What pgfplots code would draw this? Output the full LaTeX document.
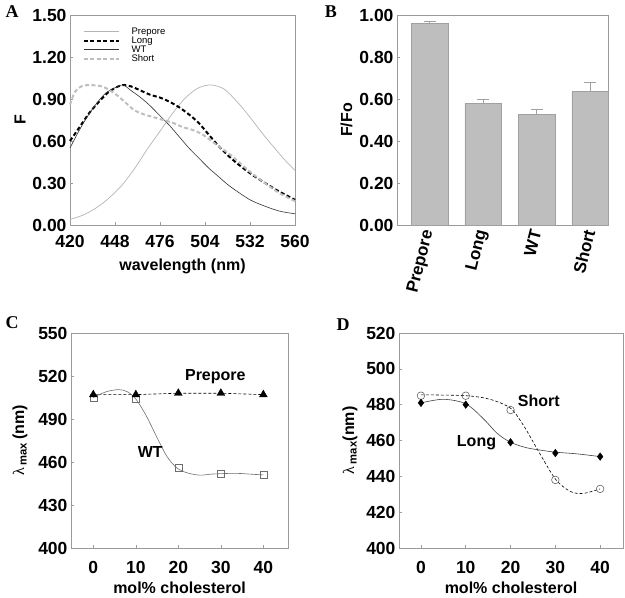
\documentclass[border=0pt]{standalone}
\usepackage{pgfplots}
\pgfplotsset{compat=1.18}
\usepackage{fontspec}
\setmainfont{Liberation Sans}
\newfontfamily\seriffont{Liberation Serif}
\definecolor{axgray}{RGB}{155,155,155}
\definecolor{lightg}{RGB}{180,180,180}
\definecolor{shortg}{RGB}{190,190,190}
\definecolor{barg}{RGB}{190,190,190}
\definecolor{bardraw}{RGB}{160,160,160}
\definecolor{wtc}{RGB}{110,110,110}

\pgfplotsset{
  panel/.style={scale only axis,
    axis line style={axgray, line width=0.8pt},
    tick style={axgray, line width=0.6pt},
    major tick length=3pt, tick align=inside,
    xtick pos=bottom, ytick pos=left,
    tick label style={font=\bfseries\fontsize{17.5}{19}\selectfont},
    label style={font=\bfseries\fontsize{16}{18}\selectfont},
    /pgf/number format/assume math mode=true,
    clip=false},
}

\pgfplotstableread{
x y
420 0.04
428 0.07
436 0.12
444 0.19
452 0.28
460 0.40
468 0.54
476 0.67
484 0.80
492 0.91
500 0.98
508 1.00
516 0.97
524 0.88
532 0.77
540 0.65
548 0.54
554 0.46
560 0.39
}\prepore

\pgfplotstableread{
x y
420 0.60
426 0.70
432 0.80
438 0.88
444 0.95
450 0.99
453 1.00
458 0.99
464 0.96
470 0.93
476 0.91
482 0.88
488 0.84
494 0.79
500 0.73
506 0.65
512 0.57
518 0.50
524 0.44
532 0.37
540 0.31
550 0.24
560 0.18
}\longA

\pgfplotstableread{
x y
420 0.55
425 0.66
430 0.76
436 0.86
442 0.94
448 0.98
453 1.00
458 0.96
464 0.91
470 0.85
476 0.78
482 0.71
488 0.63
494 0.55
500 0.48
506 0.41
512 0.35
518 0.29
524 0.24
532 0.18
540 0.14
550 0.10
560 0.08
}\wtA

\pgfplotstableread{
x y
420 0.86
423 0.95
427 0.99
432 1.00
440 0.99
445 0.96
450 0.92
455 0.87
460 0.82
466 0.79
472 0.77
478 0.75
484 0.73
490 0.70
496 0.68
502 0.65
508 0.60
514 0.55
520 0.50
526 0.44
532 0.38
540 0.31
550 0.23
560 0.17
}\shortA

\begin{document}
\begin{tikzpicture}
\useasboundingbox (0pt,0pt) rectangle (625pt,598pt);

% ---------------- A ----------------
\begin{axis}[panel, at={(70pt,373pt)}, anchor=south west,
  width=225pt, height=210pt,
  xmin=420, xmax=560, ymin=0, ymax=1.5,
  xtick={420,448,476,504,532,560},
  ytick={0,0.3,0.6,0.9,1.2,1.5},
  xticklabel shift=7pt, xlabel shift=4pt,
  yticklabel style={/pgf/number format/.cd, fixed, fixed zerofill, precision=2},
  xlabel={wavelength (nm)}, ylabel={F},
  legend style={at={(0.055,0.95)}, anchor=north west, draw=none, fill=none,
    font=\fontsize{9.5}{9}\selectfont, row sep=-3pt, inner sep=0pt,
    nodes={inner xsep=3pt}},
  legend cell align=left,
  legend image code/.code={\draw[#1] (0pt,0pt) -- (35pt,0pt); \path (44pt,0pt);},
]
\addplot[lightg, line width=0.7pt, smooth] table {\prepore};
\addlegendentry{Prepore}
\addplot[black, line width=2pt, dash pattern=on 4pt off 2.5pt, smooth] table {\longA};
\addlegendentry{Long}
\addplot[black!80, line width=0.6pt, smooth] table {\wtA};
\addlegendentry{WT}
\addplot[shortg, line width=2pt, dash pattern=on 4pt off 2.5pt, smooth] table {\shortA};
\addlegendentry{Short}
\end{axis}

% ---------------- B ----------------
\begin{axis}[panel, at={(397pt,373pt)}, anchor=south west,
  width=211pt, height=210pt,
  xmin=-0.61, xmax=3.33, ymin=0, ymax=1.0,
  xtick={0,1,2,3}, xticklabels={Prepore,Long,WT,Short},
  xtick style={draw=none},
  xticklabel shift=2pt,
  x tick label style={rotate=76, anchor=east, font=\bfseries\fontsize{17}{19}\selectfont},
  ytick={0,0.2,0.4,0.6,0.8,1.0},
  yticklabel style={/pgf/number format/.cd, fixed, fixed zerofill, precision=2},
  ylabel={F/Fo},
]
\addplot[ybar, bar width=36.7pt, fill=barg, draw=bardraw, line width=0.5pt,
  error bars/.cd, y dir=plus, y explicit,
  error bar style={color=bardraw, line width=0.7pt},
  error mark options={rotate=90, mark size=6pt, color=bardraw, line width=0.7pt}]
  coordinates {(0,0.96) +- (0,0.01) (1,0.58) +- (0,0.02) (2,0.525) +- (0,0.025) (3,0.635) +- (0,0.045)};
\end{axis}

% ---------------- C ----------------
\begin{axis}[panel, at={(71pt,50pt)}, anchor=south west,
  width=217pt, height=215pt,
  xmin=-5.25, xmax=45.8, ymin=400, ymax=550,
  xtick={0,10,20,30,40}, ytick={400,430,460,490,520,550},
  xticklabel shift=10pt, xlabel shift=1pt, ylabel shift=4pt,
  xlabel={mol\% cholesterol},
  ylabel={{\seriffont\mdseries λ}\,\textsubscript{max}\,(nm)},
]
\addplot[black, line width=0.6pt, dash pattern=on 3pt off 2pt] coordinates {(0,507) (10,507) (20,508) (30,508) (40,507)};
\addplot[wtc, line width=0.6pt, smooth] coordinates {(0,505) (3,509) (6,510.5) (8,509) (10,504) (12.5,492) (15,477) (17.3,464) (19.6,456) (22,452.5) (25,450.8) (28,451.6) (31.4,452) (34.5,452) (37,451.5) (40,451)};
\addplot[only marks, mark=square, mark size=3.5pt, mark options={draw=wtc, fill=white, line width=0.6pt}] coordinates {(0,505) (10,504) (20,456) (30,452) (40,451)};
\addplot[only marks, mark=triangle*, mark size=4.5pt, mark options={black}] coordinates {(0,507) (10,507) (20,508) (30,508) (40,507)};
\node[font=\bfseries\fontsize{16}{18}\selectfont] at (axis cs:28.7,519.7) {Prepore};
\node[font=\bfseries\fontsize{16}{18}\selectfont] at (axis cs:13.4,467) {WT};
\end{axis}

% ---------------- D ----------------
\begin{axis}[panel, at={(399pt,50pt)}, anchor=south west,
  width=224pt, height=215pt,
  xmin=-4.9, xmax=45.1, ymin=400, ymax=520,
  xtick={0,10,20,30,40}, ytick={400,420,440,460,480,500,520},
  xticklabel shift=10pt, xlabel shift=1pt, ylabel shift=2pt,
  xlabel={mol\% cholesterol},
  ylabel={{\seriffont\mdseries λ}\,\textsubscript{max}(nm)},
]
\addplot[black, line width=0.6pt, dash pattern=on 3pt off 2pt, smooth] coordinates {(0,485.5) (10,485) (15.4,483) (20,478) (23,468) (26,455) (30,438.5) (33.4,431.5) (36.3,430.5) (40,433)};
\addplot[black!75, line width=0.6pt, smooth] coordinates {(0,481) (5,483) (10,480.5) (14,472) (17,464) (20,459) (23.5,456) (27,454.5) (30,453.5) (35,452.5) (40,451)};
\addplot[only marks, mark=o, mark size=3.8pt, mark options={draw=black!60, fill=white, line width=0.6pt}] coordinates {(0,485) (10,485) (20,477) (30,438) (40,433)};
\addplot[only marks, mark=diamond*, mark size=3.8pt, mark options={black}] coordinates {(0,481) (10,480) (20,459) (30,453) (40,451)};
\node[font=\bfseries\fontsize{16}{18}\selectfont] at (axis cs:26.3,481.9) {Short};
\node[font=\bfseries\fontsize{16}{18}\selectfont] at (axis cs:12.4,458.6) {Long};
\end{axis}

% panel letters
\node[font=\seriffont\bfseries\fontsize{18}{18}\selectfont] at (12pt,586pt) {A};
\node[font=\seriffont\bfseries\fontsize{18}{18}\selectfont] at (331pt,586pt) {B};
\node[font=\seriffont\bfseries\fontsize{18}{18}\selectfont] at (12pt,275pt) {C};
\node[font=\seriffont\bfseries\fontsize{18}{18}\selectfont] at (343pt,273pt) {D};
\end{tikzpicture}
\end{document}
